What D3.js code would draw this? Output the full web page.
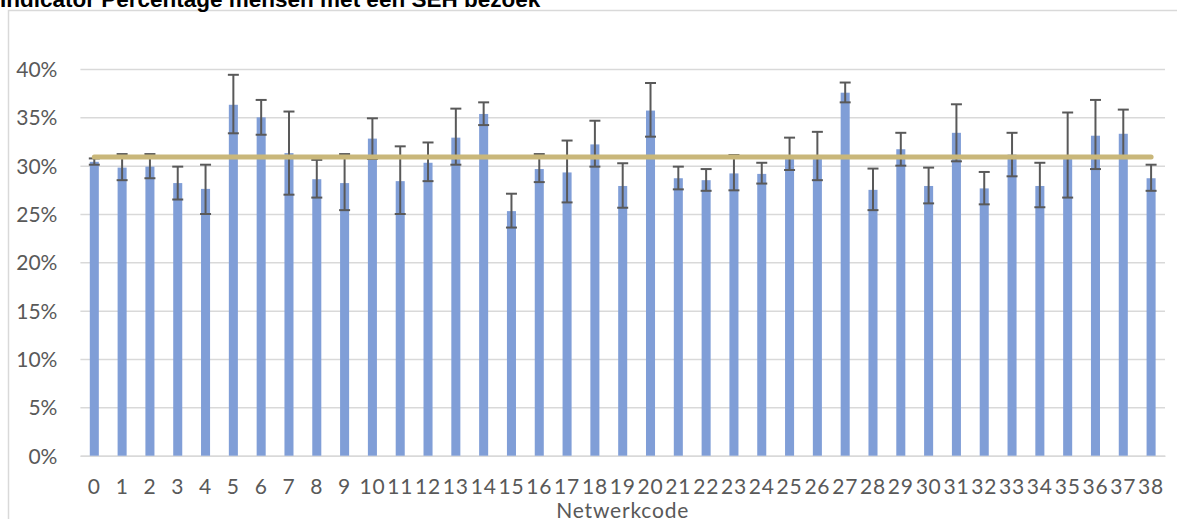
<!DOCTYPE html>
<html>
<head>
<meta charset="utf-8">
<script src="https://cdn.jsdelivr.net/npm/d3@7"></script>
<style>
	body { margin: 0; background: #fff; }
	#chart { width: 1177px; height: 519px; }
	.tickText { font-family: Lato, 'Noto Sans', sans-serif; font-size: 21px; fill: #595959; }
	.xTick { letter-spacing: 0.8px; }
	.chartTitle { font-family: 'Liberation Sans', Arial, sans-serif; font-size: 22.5px; font-weight: bold; fill: #000; }
</style>
</head>
<body>
<div id="chart"><svg width="1177" height="519"></svg></div>
<script>
// categories (netwerkcode)
const codes = d3.range(0, 39).map(String);

// indicator value per network, in %
const values = [30.4, 29.8, 29.9, 28.2, 27.6, 36.3, 35.0, 31.3, 28.6, 28.2, 32.8, 28.4, 30.3, 32.9, 35.35, 25.3, 29.65, 29.3, 32.2, 27.9, 35.7, 28.7, 28.5, 29.2, 29.15, 31.0, 31.0, 37.55, 27.5, 31.7, 27.9, 33.4, 27.65, 31.15, 27.9, 31.1, 33.1, 33.3, 28.7];

// error bar lower / upper bounds, in %
const lower = [30.1, 28.5, 28.7, 26.5, 25.0, 33.35, 33.2, 27.0, 26.7, 25.4, 30.7, 25.0, 28.4, 30.1, 34.2, 23.6, 28.3, 26.2, 29.9, 25.65, 33.0, 27.55, 27.4, 27.45, 28.15, 29.55, 28.5, 36.55, 25.4, 30.0, 26.1, 30.45, 26.0, 28.9, 25.7, 26.7, 29.65, 30.8, 27.4];
const upper = [30.75, 31.2, 31.2, 29.9, 30.1, 39.4, 36.8, 35.6, 30.6, 31.2, 34.9, 32.0, 32.4, 35.9, 36.55, 27.1, 31.2, 32.6, 34.65, 30.25, 38.55, 29.9, 29.65, 31.1, 30.3, 32.9, 33.5, 38.6, 29.7, 33.4, 29.8, 36.35, 29.35, 33.4, 30.3, 35.5, 36.8, 35.8, 30.1];

// overall average (reference line)
const average = 30.9;

// y ticks
const yTicks = [0, 5, 10, 15, 20, 25, 30, 35, 40];

/***** BASIC SETUP *****/
const svg = d3.select('#chart').select('svg');
const margin = { top: 69, left: 80.4, right: 12, bottom: 63.3 };
const width = 1177;
const height = 519;
const plotWidth = width - margin.left - margin.right;
const plotHeight = height - margin.top - margin.bottom;

const data = codes.map((c, i) => ({ code: c, value: values[i], lo: lower[i], hi: upper[i] }));

// chart frame
svg.append('rect')
	.attr('x', 8.5)
	.attr('y', 10.5)
	.attr('width', 1300)
	.attr('height', 700)
	.attr('fill', 'none')
	.attr('stroke', '#d9d9d9')
	.attr('stroke-width', 1.5);

// title (cut off at the top in the original)
svg.append('text')
	.attr('class', 'chartTitle')
	.attr('x', 0)
	.attr('y', 7)
	.text('Indicator Percentage mensen met een SEH bezoek');

/***** SCALES *****/
const xScale = d3.scaleBand()
	.domain(codes)
	.range([0, plotWidth])
	.paddingInner(0.675)
	.paddingOuter(0.3375);

const yScale = d3.scaleLinear()
	.domain([0, 40])
	.range([plotHeight, 0]);

const plot = svg.append('g').attr('transform', `translate(${margin.left}, ${margin.top})`);

/***** GRIDLINES + Y AXIS *****/
const yAxis = plot.append('g')
	.call(d3.axisLeft(yScale)
		.tickValues(yTicks)
		.tickSize(-plotWidth)
		.tickPadding(23)
		.tickFormat((d) => d + '%'));
yAxis.select('.domain').remove();
yAxis.selectAll('.tick line').attr('stroke', '#d9d9d9').attr('stroke-width', 1.5);
yAxis.selectAll('.tick text').attr('class', 'tickText').attr('dy', '0.36em');

/***** X AXIS *****/
const xAxis = plot.append('g')
	.attr('transform', `translate(0, ${plotHeight})`)
	.call(d3.axisBottom(xScale).tickSize(0).tickPadding(23));
xAxis.select('.domain').attr('stroke', '#d9d9d9').attr('stroke-width', 1.5);
xAxis.selectAll('.tick text').attr('class', 'tickText xTick').attr('dy', '0.71em');

plot.append('text')
	.attr('class', 'tickText')
	.attr('x', plotWidth / 2)
	.attr('y', plotHeight + 62)
	.attr('text-anchor', 'middle')
	.attr('letter-spacing', '0.8px')
	.text('Netwerkcode');

/***** BARS *****/
plot.selectAll('.bar')
	.data(data)
	.enter()
	.append('rect')
	.attr('class', 'bar')
	.attr('x', (d) => xScale(d.code))
	.attr('width', xScale.bandwidth())
	.attr('y', (d) => yScale(d.value))
	.attr('height', (d) => plotHeight - yScale(d.value))
	.attr('fill', '#809ed7');

/***** ERROR BARS *****/
const capHalf = 5.5;
const err = plot.selectAll('.err')
	.data(data)
	.enter()
	.append('g')
	.attr('class', 'err')
	.attr('transform', (d) => `translate(${xScale(d.code) + xScale.bandwidth() / 2}, 0)`)
	.attr('stroke', '#595959')
	.attr('stroke-width', 2);

err.append('line')
	.attr('y1', (d) => yScale(d.lo))
	.attr('y2', (d) => yScale(d.hi));
err.append('line')
	.attr('x1', -capHalf).attr('x2', capHalf)
	.attr('y1', (d) => yScale(d.lo)).attr('y2', (d) => yScale(d.lo));
err.append('line')
	.attr('x1', -capHalf).attr('x2', capHalf)
	.attr('y1', (d) => yScale(d.hi)).attr('y2', (d) => yScale(d.hi));

/***** AVERAGE LINE *****/
const line = d3.line()
	.x((d) => xScale(d.code) + xScale.bandwidth() / 2)
	.y(() => yScale(average));

plot.append('path')
	.datum(data)
	.attr('d', line)
	.attr('fill', 'none')
	.attr('stroke', '#c9b77a')
	.attr('stroke-width', 5)
	.attr('stroke-linecap', 'round');
</script>
</body>
</html>
